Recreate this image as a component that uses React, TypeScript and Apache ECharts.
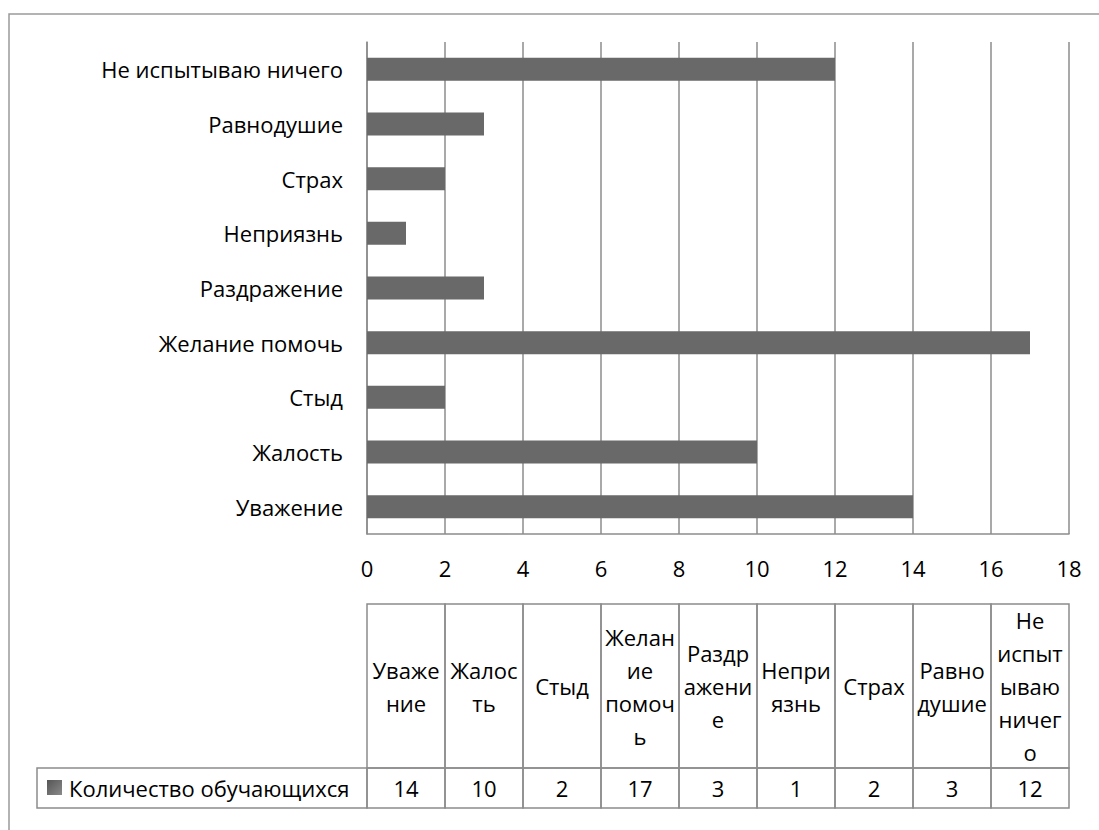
import React, { useEffect, useRef } from "react";
import * as echarts from "echarts";

// Categories in data-table order (bottom bar first)
const categories = [
  "Уважение",
  "Жалость",
  "Стыд",
  "Желание помочь",
  "Раздражение",
  "Неприязнь",
  "Страх",
  "Равнодушие",
  "Не испытываю ничего",
];

// Column headers of the data table, wrapped to fit the narrow cells
const tableHeaders = [
  "Уваже\nние",
  "Жалос\nть",
  "Стыд",
  "Желан\nие\nпомоч\nь",
  "Раздр\nажени\nе",
  "Непри\nязнь",
  "Страх",
  "Равно\nдушие",
  "Не\nиспыт\nываю\nничег\nо",
];

const seriesName = "Количество обучающихся";
const values = [14, 10, 2, 17, 3, 1, 2, 3, 12];

const xTicks = { min: 0, max: 18, interval: 2 };

const FONT = "Open Sans";
const FONT_SIZE = 22;
const TEXT_COLOR = "#000";
const LINE_COLOR = "#8c8c8c";
const BAR_COLOR = "#696969";

export default function App() {
  const ref = useRef<HTMLDivElement>(null);

  useEffect(() => {
    if (!ref.current) return;
    const chart = echarts.init(ref.current, undefined, { renderer: "svg" });

    chart.setOption({
      animation: false,
      backgroundColor: "#fff",
      grid: { left: 367, right: 30, top: 42, bottom: 296, containLabel: false },
      xAxis: {
        type: "value",
        min: xTicks.min,
        max: xTicks.max,
        interval: xTicks.interval,
        axisLine: { show: true, lineStyle: { color: LINE_COLOR, width: 1.5 } },
        axisTick: { show: false },
        splitLine: { show: true, lineStyle: { color: LINE_COLOR, width: 1.5 } },
        axisLabel: {
          margin: 23,
          fontFamily: FONT,
          fontSize: FONT_SIZE,
          color: TEXT_COLOR,
        },
      },
      yAxis: {
        type: "category",
        data: categories,
        axisLine: { show: true, lineStyle: { color: LINE_COLOR, width: 1.5 } },
        axisTick: { show: false },
        axisLabel: {
          margin: 24,
          fontFamily: FONT,
          fontSize: FONT_SIZE,
          color: TEXT_COLOR,
        },
      },
      series: [
        {
          name: seriesName,
          type: "bar",
          data: values,
          barWidth: 23,
          itemStyle: { color: BAR_COLOR },
        },
      ],
    });

    // Data table under the axis, aligned with the plot's width
    const left = chart.convertToPixel({ xAxisIndex: 0 }, xTicks.min) as number;
    const right = chart.convertToPixel({ xAxisIndex: 0 }, xTicks.max) as number;
    const colW = (right - left) / categories.length;
    const headTop = 604;
    const headBottom = 768;
    const rowBottom = 808;
    const legendLeft = 37;
    const border = { stroke: LINE_COLOR, lineWidth: 1.5, fill: "none" };
    const textStyle = {
      fontFamily: FONT,
      fontSize: FONT_SIZE,
      fill: TEXT_COLOR,
      align: "center",
      verticalAlign: "middle",
      lineHeight: 33,
    };

    const elements: any[] = [];
    // outer frame of the chart area
    elements.push({
      type: "polyline",
      shape: { points: [[9, 840], [9, 14], [1110, 14]] },
      style: { stroke: "#9a9a9a", lineWidth: 1.5, fill: "none" },
      silent: true,
    });
    categories.forEach((_, i) => {
      const x0 = left + i * colW;
      elements.push({
        type: "rect",
        shape: { x: x0, y: headTop, width: colW, height: headBottom - headTop },
        style: border,
      });
      elements.push({
        type: "rect",
        shape: { x: x0, y: headBottom, width: colW, height: rowBottom - headBottom },
        style: border,
      });
      elements.push({
        type: "text",
        x: x0 + colW / 2,
        y: (headTop + headBottom) / 2,
        style: { ...textStyle, text: tableHeaders[i] },
      });
      elements.push({
        type: "text",
        x: x0 + colW / 2,
        y: (headBottom + rowBottom) / 2,
        style: { ...textStyle, text: String(values[i]) },
      });
    });
    // legend cell of the value row
    elements.push({
      type: "rect",
      shape: { x: legendLeft, y: headBottom, width: left - legendLeft, height: rowBottom - headBottom },
      style: border,
    });
    elements.push({
      type: "rect",
      shape: { x: 47, y: 780, width: 15, height: 15 },
      style: {
        fill: new echarts.graphic.LinearGradient(0, 0, 1, 1, [
          { offset: 0, color: "#555" },
          { offset: 1, color: "#8a8a8a" },
        ]),
      },
    });
    elements.push({
      type: "text",
      x: 69,
      y: (headBottom + rowBottom) / 2,
      style: { ...textStyle, align: "left", text: seriesName },
    });

    chart.setOption({ graphic: { elements } });

    return () => chart.dispose();
  }, []);

  return (
    <div
      ref={ref}
      style={{ position: "absolute", left: 0, top: 0, width: 1099, height: 830 }}
    />
  );
}
